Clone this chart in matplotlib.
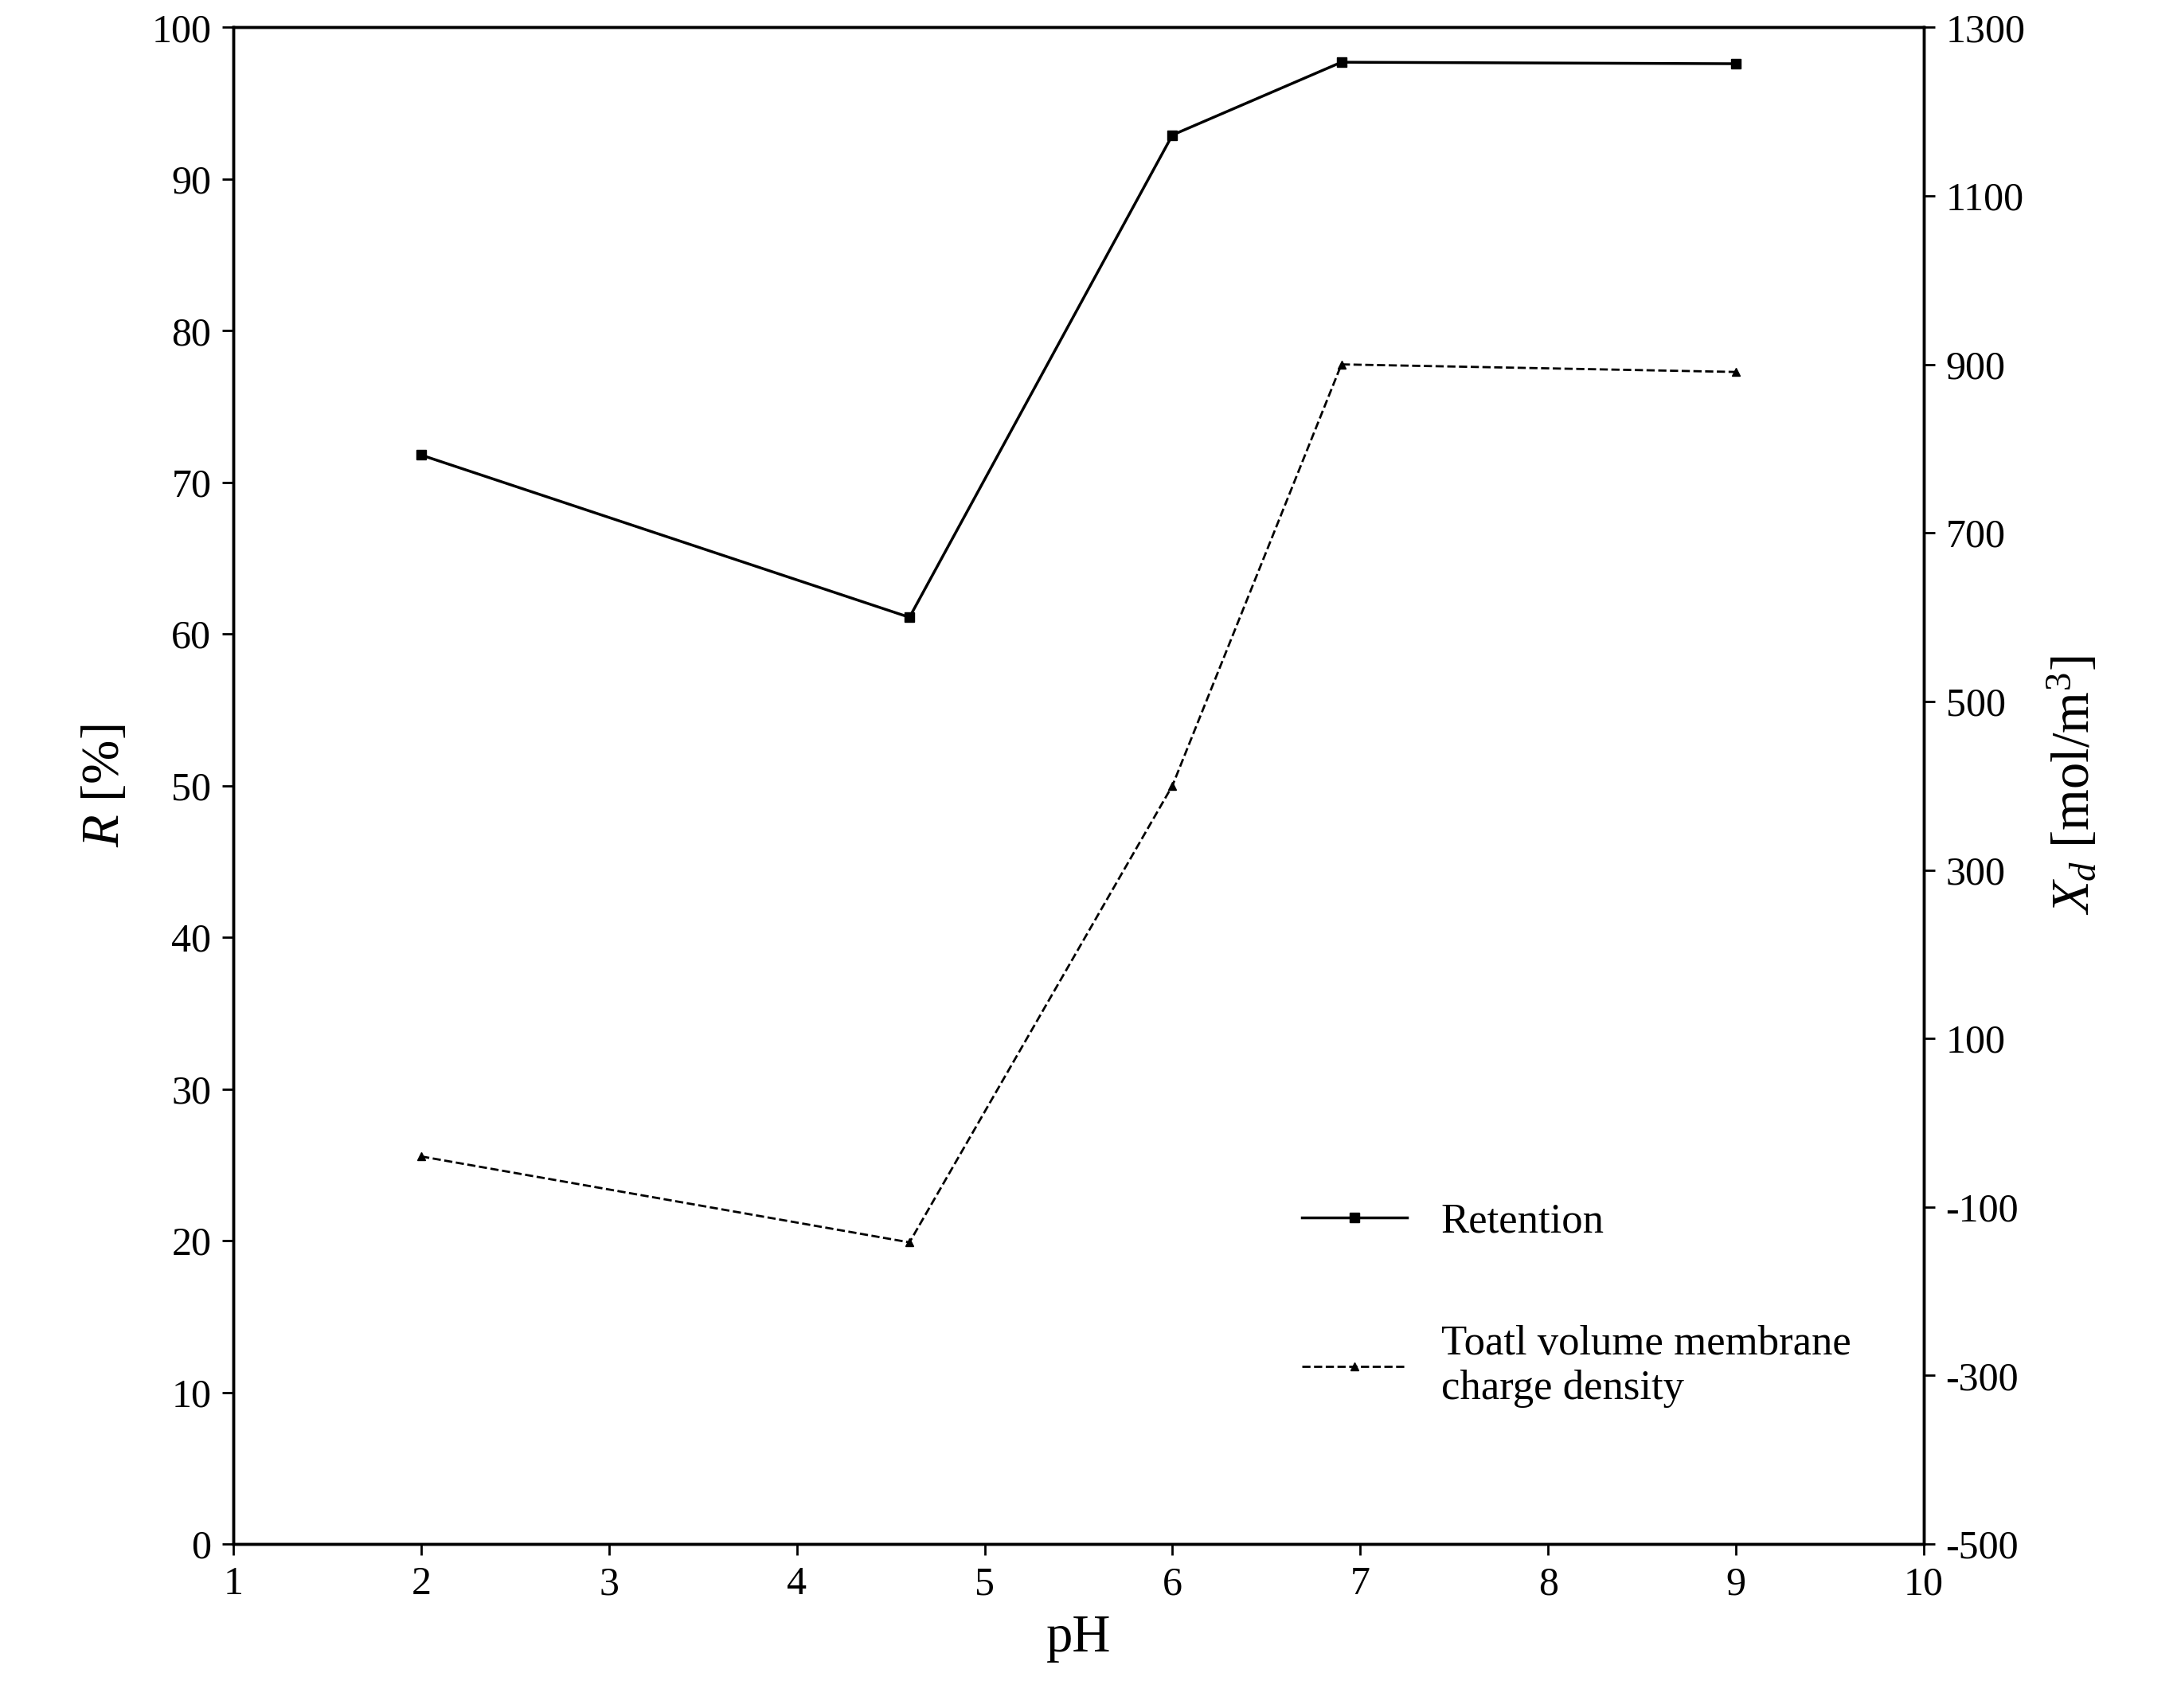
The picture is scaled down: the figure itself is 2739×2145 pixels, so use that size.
import matplotlib
matplotlib.use("Agg")
import matplotlib.pyplot as plt

plt.rcParams['font.family'] = ['Liberation Serif', 'DejaVu Serif']
plt.rcParams['mathtext.fontset'] = 'custom'
plt.rcParams['mathtext.rm'] = 'Liberation Serif'
plt.rcParams['mathtext.it'] = 'Liberation Serif:italic'
plt.rcParams['axes.unicode_minus'] = False

ph = [2, 4.6, 6, 6.9, 9]
retention = [71.8, 61.1, 92.9, 97.7, 97.6]
xd = [-40, -142, 400, 900, 891]

fig = plt.figure(figsize=(27.39, 21.45), dpi=100)
ax = fig.add_axes([0.107, 0.096, 0.775, 0.888])
ax2 = ax.twinx()

l1, = ax.plot(ph, retention, '-', color='black', lw=2.5, marker='s', ms=8, label='Retention')
l2, = ax2.plot(ph, xd, '--', color='black', lw=2, marker='^', ms=7,
               label='Toatl volume membrane\ncharge density')

ax.set_xlim(1, 10)
ax.set_ylim(0, 100)
ax.set_xticks(range(1, 11))
ax.set_yticks(range(0, 101, 10))
ax2.set_ylim(-500, 1300)
ax2.set_yticks(range(-500, 1301, 200))

for a in (ax, ax2):
    a.tick_params(labelsize=36, width=2, length=10, direction='out', pad=10)
    for s in a.spines.values():
        s.set_linewidth(2.5)

ax.set_xlabel('pH', fontsize=48, labelpad=10)
ax.set_ylabel(r'$\mathit{R}$ [%]', fontsize=48, labelpad=20)
ax2.set_ylabel(r'$\mathit{X_d}$ [mol/m$^3$]', fontsize=48, labelpad=20, rotation=90)

ax.legend(handles=[l1, l2], loc='lower left', bbox_to_anchor=(0.61, 0.065),
          frameon=False, fontsize=38, labelspacing=2.0, handlelength=2.5)

fig.savefig('out.png', dpi=100)
